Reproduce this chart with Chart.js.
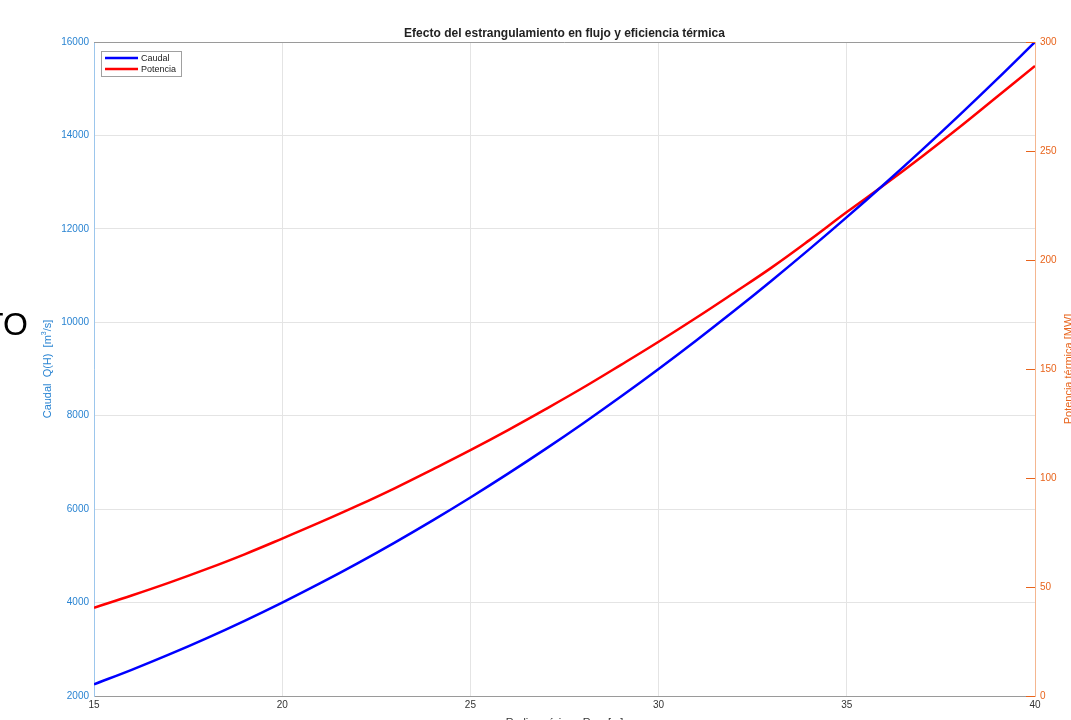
<!DOCTYPE html>
<html>
<head>
<meta charset="utf-8">
<title>Efecto del estrangulamiento</title>
<script src="https://cdn.jsdelivr.net/npm/chart.js@4.4.1/dist/chart.umd.min.js"></script>
<style>
    html, body { margin: 0; padding: 0; overflow: hidden; background: #fff; }
    #wrap { position: absolute; left: 0; top: 0; width: 1090px; height: 735px; }
</style>
</head>
<body>
<div id="wrap"><canvas id="chart-efecto" width="1090" height="735"></canvas></div>
<script>
// Radio minimo R_min [m]
const radio = [15, 16, 17, 18, 19, 20, 21, 22, 23, 24, 25, 26, 27, 28, 29, 30,
    31, 32, 33, 34, 35, 36, 37, 38, 39, 40];
// Caudal Q(H) [m3/s]
const caudal = [2250, 2560, 2890, 3240, 3610, 4000, 4410, 4840, 5290, 5760, 6250,
    6760, 7290, 7840, 8410, 9000, 9610, 10240, 10890, 11560, 12250, 12960,
    13690, 14440, 15210, 16000];
// Potencia termica [MW]
const potencia = [40.5, 46.1, 52.0, 58.3, 65.0, 72.2, 79.6, 87.3, 95.4, 104.0,
    112.8, 122.0, 131.6, 141.5, 151.9, 162.5, 173.5, 184.9, 196.5, 209.0,
    222.0, 234.5, 247.5, 261.0, 275.0, 289.0];

const xTicks = [15, 20, 25, 30, 35, 40];
const caudalTicks = [2000, 4000, 6000, 8000, 10000, 12000, 14000, 16000];
const potenciaTicks = [0, 50, 100, 150, 200, 250, 300];

const tituloTexto = "Efecto del estrangulamiento en flujo y eficiencia térmica";

const BLUE_AX = "#2a84d2";
const ORANGE_AX = "#e8641c";
const FONT = "'Liberation Sans', Arial, Helvetica, sans-serif";

function toPoints(xs, ys) {
    let pts = [];
    for (let i = 0; i < xs.length; i++) {
        pts.push({ x: xs[i], y: ys[i] });
    }
    return pts;
}

function plainLabel(value) {
    return String(value);
}

// draws title, axis labels, box, legend and the stray text
const extras = {
    id: "extras",
    afterDraw(chart) {
        let ctx = chart.ctx;
        let a = chart.chartArea;
        let y1 = chart.scales.y1;
        ctx.save();

        // top border
        ctx.strokeStyle = "#9a9a9a";
        ctx.lineWidth = 1;
        ctx.beginPath();
        ctx.moveTo(a.left, a.top + 0.5);
        ctx.lineTo(a.right, a.top + 0.5);
        ctx.stroke();

        // inward ticks on the right axis
        ctx.strokeStyle = ORANGE_AX;
        potenciaTicks.forEach(function (v) {
            let py = Math.round(y1.getPixelForValue(v)) + 0.5;
            ctx.beginPath();
            ctx.moveTo(a.right - 9, py);
            ctx.lineTo(a.right, py);
            ctx.stroke();
        });

        // title
        ctx.fillStyle = "#222";
        ctx.font = "bold 12px " + FONT;
        ctx.textAlign = "center";
        ctx.textBaseline = "alphabetic";
        ctx.fillText(tituloTexto, (a.left + a.right) / 2, 37);

        // left axis title
        ctx.save();
        ctx.translate(51, (a.top + a.bottom) / 2);
        ctx.rotate(-Math.PI / 2);
        ctx.fillStyle = BLUE_AX;
        ctx.font = "11px " + FONT;
        let t1 = "Caudal  Q(H)  [m";
        let w1 = ctx.measureText(t1).width;
        ctx.font = "7px " + FONT;
        let w2 = ctx.measureText("3").width;
        ctx.font = "11px " + FONT;
        let w3 = ctx.measureText("/s]").width;
        let x0 = -(w1 + w2 + w3) / 2;
        ctx.textAlign = "left";
        ctx.fillText(t1, x0, 0);
        ctx.font = "7px " + FONT;
        ctx.fillText("3", x0 + w1, -5);
        ctx.font = "11px " + FONT;
        ctx.fillText("/s]", x0 + w1 + w2, 0);
        ctx.restore();

        // right axis title (cut at the right edge of the window)
        ctx.save();
        ctx.translate(1072, (a.top + a.bottom) / 2);
        ctx.rotate(-Math.PI / 2);
        ctx.fillStyle = ORANGE_AX;
        ctx.font = "11px " + FONT;
        ctx.textAlign = "center";
        ctx.fillText("Potencia térmica [MW]", 0, 0);
        ctx.restore();

        // x axis title (cut at the bottom of the window)
        ctx.fillStyle = "#333";
        ctx.font = "11px " + FONT;
        let xa = "Radio  mínimo  R";
        let xb = "min";
        let xc = "  [m]";
        let wa = ctx.measureText(xa).width;
        let wc = ctx.measureText(xc).width;
        ctx.font = "7px " + FONT;
        let wb = ctx.measureText(xb).width;
        let xs = (a.left + a.right) / 2 - (wa + wb + wc) / 2;
        ctx.textAlign = "left";
        ctx.font = "11px " + FONT;
        ctx.fillText(xa, xs, 726);
        ctx.font = "7px " + FONT;
        ctx.fillText(xb, xs + wa, 729);
        ctx.font = "11px " + FONT;
        ctx.fillText(xc, xs + wa + wb, 726);

        // legend
        let lx = 101, ly = 51, lw = 80, lh = 25;
        ctx.fillStyle = "#fff";
        ctx.fillRect(lx, ly, lw, lh);
        ctx.strokeStyle = "#a0a0a0";
        ctx.lineWidth = 1;
        ctx.strokeRect(lx + 0.5, ly + 0.5, lw, lh);
        ctx.lineWidth = 2.5;
        ctx.font = "9px " + FONT;
        ctx.textBaseline = "middle";
        chart.data.datasets.forEach(function (ds, i) {
            let yy = ly + 7 + i * 11;
            ctx.strokeStyle = ds.borderColor;
            ctx.beginPath();
            ctx.moveTo(lx + 4, yy);
            ctx.lineTo(lx + 37, yy);
            ctx.stroke();
            ctx.fillStyle = "#222";
            ctx.fillText(ds.label, lx + 40, yy + 0.5);
        });

        // stray text at the left edge of the picture
        ctx.fillStyle = "#000";
        ctx.font = "32px " + FONT;
        ctx.textBaseline = "alphabetic";
        ctx.fillText("TO", -16, 335);

        ctx.restore();
    }
};

let canvas = document.getElementById("chart-efecto");

let myChart = new Chart(canvas, {
    "type": "line",
    "data": {
        "datasets": [{
            "label": "Caudal",
            "data": toPoints(radio, caudal),
            "borderColor": "#0000ff",
            "borderWidth": 2.5,
            "pointRadius": 0,
            "fill": false,
            "tension": 0.4,
            "yAxisID": "y"
        }, {
            "label": "Potencia",
            "data": toPoints(radio, potencia),
            "borderColor": "#ff0000",
            "borderWidth": 2.5,
            "pointRadius": 0,
            "fill": false,
            "tension": 0.4,
            "yAxisID": "y1"
        }]
    },
    "options": {
        responsive: false,
        animation: false,
        maintainAspectRatio: false,
        layout: { padding: { top: 42, left: 0, right: 0, bottom: 0 } },
        plugins: {
            legend: { display: false },
            title: { display: false },
            tooltip: { enabled: false }
        },
        scales: {
            x: {
                type: "linear",
                min: 15,
                max: 40,
                afterBuildTicks: function (s) { s.ticks = xTicks.map(v => ({ value: v })); },
                afterFit: function (s) { s.height = 39; },
                ticks: { color: "#333", font: { family: FONT, size: 10 }, padding: 3, callback: plainLabel },
                grid: { color: "#e4e4e4", drawTicks: false },
                border: { color: "#9a9a9a" }
            },
            y: {
                position: "left",
                min: 2000,
                max: 16000,
                afterBuildTicks: function (s) { s.ticks = caudalTicks.map(v => ({ value: v })); },
                afterFit: function (s) { s.width = 94; },
                ticks: { color: BLUE_AX, font: { family: FONT, size: 10 }, padding: 5, callback: plainLabel },
                grid: { color: "#e4e4e4", drawTicks: false },
                border: { color: "#9cc6ec" }
            },
            y1: {
                position: "right",
                min: 0,
                max: 300,
                afterBuildTicks: function (s) { s.ticks = potenciaTicks.map(v => ({ value: v })); },
                afterFit: function (s) { s.width = 55; },
                ticks: { color: ORANGE_AX, font: { family: FONT, size: 10 }, padding: 5, callback: plainLabel },
                grid: { drawOnChartArea: false, drawTicks: false },
                border: { color: "#f4b690" }
            }
        }
    },
    plugins: [extras]
});
</script>
</body>
</html>
